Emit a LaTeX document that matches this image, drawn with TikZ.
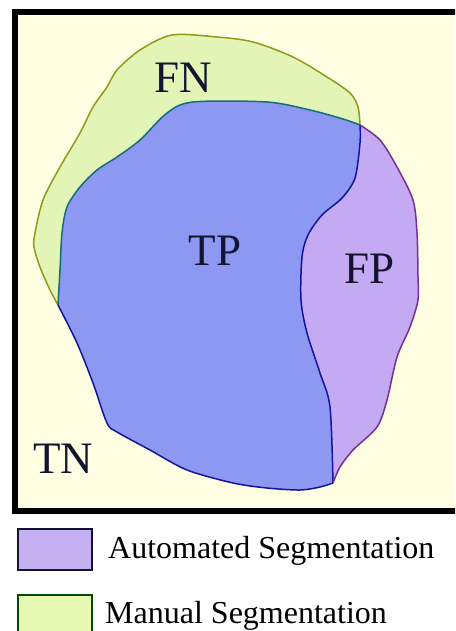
\documentclass[tikz,border=0pt]{standalone}
\usepackage{fontspec}
\setmainfont{Liberation Serif}
\definecolor{bgcream}{HTML}{FFFDE2}
\definecolor{manualfill}{HTML}{E2F5B6}
\definecolor{manualline}{HTML}{8E9C18}
\definecolor{tpfill}{HTML}{8C98F2}
\definecolor{fpfill}{HTML}{C4AAF2}
\definecolor{edgeblue}{HTML}{14149A}
\definecolor{edgeteal}{HTML}{146E7A}
\definecolor{edgepurple}{HTML}{7A2E8E}
\definecolor{labelink}{HTML}{121430}
\definecolor{legendA}{HTML}{C5B0F2}
\definecolor{legendM}{HTML}{E6F8B2}

% outline pieces of the two segmentations (pixel coordinates, y downwards)
\def\manualarc{(58,305) (50,290) (40,267) (34,247) (35,233) (43,200) (60,167) (80,133) (93,107) (107,87) (117,70) (140,50) (172,35) (217,37) (253,42) (293,57) (327,77) (350,93) (358,107) (360,125)}
\def\dividerarc{(360,125) (360,143) (355,178) (342,198) (322,215) (308,235) (302,257) (301,300) (307,333) (320,373) (330,407) (333,483)}
\def\lowerarc{(333,483) (320,487) (300,490) (267,488) (233,483) (187,470) (150,450) (117,432) (107,423) (93,383) (77,343) (58,305)}
\def\autotoparc{(58,305) (60,270) (62,233) (67,207) (80,187) (97,170) (117,157) (140,140) (167,113) (193,102) (267,102) (310,110) (343,119) (360,125)}
\def\autorightarc{(360,125) (380,140) (397,167) (413,200) (417,233) (418,277) (418,300) (410,327) (397,357) (387,400) (377,427) (353,450) (340,467) (333,483)}

\tikzset{
  region label/.style={font=\fontsize{45}{45}\selectfont, text=labelink, anchor=base, inner sep=0pt},
  legend text/.style={font=\fontsize{32}{32}\selectfont, text=black, anchor=base west, inner sep=0pt},
  outline/.style={line width=1.5pt, line join=round},
}

\begin{document}
\begin{tikzpicture}[x=1pt, y=-1pt]
  \useasboundingbox (0,0) rectangle (455,631);
  \clip (0,0) rectangle (455,631);

  % frame with cream background
  \fill[bgcream] (15,12) rectangle (470,511);

  % manual segmentation (FN + TP)
  \fill[manualfill] plot[smooth, tension=0.5] coordinates {\manualarc}
    -- plot[smooth, tension=0.5] coordinates {\dividerarc}
    -- plot[smooth, tension=0.5] coordinates {\lowerarc} -- cycle;
  % automated segmentation (FP + TP)
  \fill[fpfill] plot[smooth, tension=0.5] coordinates {\autotoparc}
    -- plot[smooth, tension=0.5] coordinates {\autorightarc}
    -- plot[smooth, tension=0.5] coordinates {\lowerarc} -- cycle;
  % overlap of the two (TP)
  \begin{scope}
    \clip plot[smooth, tension=0.5] coordinates {\manualarc}
      -- plot[smooth, tension=0.5] coordinates {\dividerarc}
      -- plot[smooth, tension=0.5] coordinates {\lowerarc} -- cycle;
    \fill[tpfill] plot[smooth, tension=0.5] coordinates {\autotoparc}
      -- plot[smooth, tension=0.5] coordinates {\autorightarc}
      -- plot[smooth, tension=0.5] coordinates {\lowerarc} -- cycle;
  \end{scope}

  % outlines
  \draw[outline, manualline] plot[smooth, tension=0.5] coordinates {\manualarc};
  \draw[outline, edgeteal] plot[smooth, tension=0.5] coordinates {\autotoparc};
  \draw[outline, edgeblue] plot[smooth, tension=0.5] coordinates {\dividerarc};
  \draw[outline, edgepurple] plot[smooth, tension=0.5] coordinates {\autorightarc};
  \draw[outline, edgeblue] plot[smooth, tension=0.5] coordinates {\lowerarc};

  % black frame
  \draw[line width=6.5pt] (15,12) rectangle (470,511);

  % region labels
  \node[region label] (fn) at (183,93) {FN};
  \node[region label] (tp) at (215,265) {TP};
  \node[region label] (fp) at (370,283) {FP};
  \node[region label] (tn) at (63,473) {TN};

  % legend
  \draw[fill=legendA, draw=labelink, line width=1.5pt] (18,529) rectangle (92,570);
  \node[legend text] (autotext) at (108,558) {Automated Segmentation};
  \draw[fill=legendM, draw=black!70!green, line width=1.5pt] (18,595) rectangle (92,645);
  \node[legend text] (mantext) at (105,623) {Manual Segmentation};
\end{tikzpicture}
\end{document}
